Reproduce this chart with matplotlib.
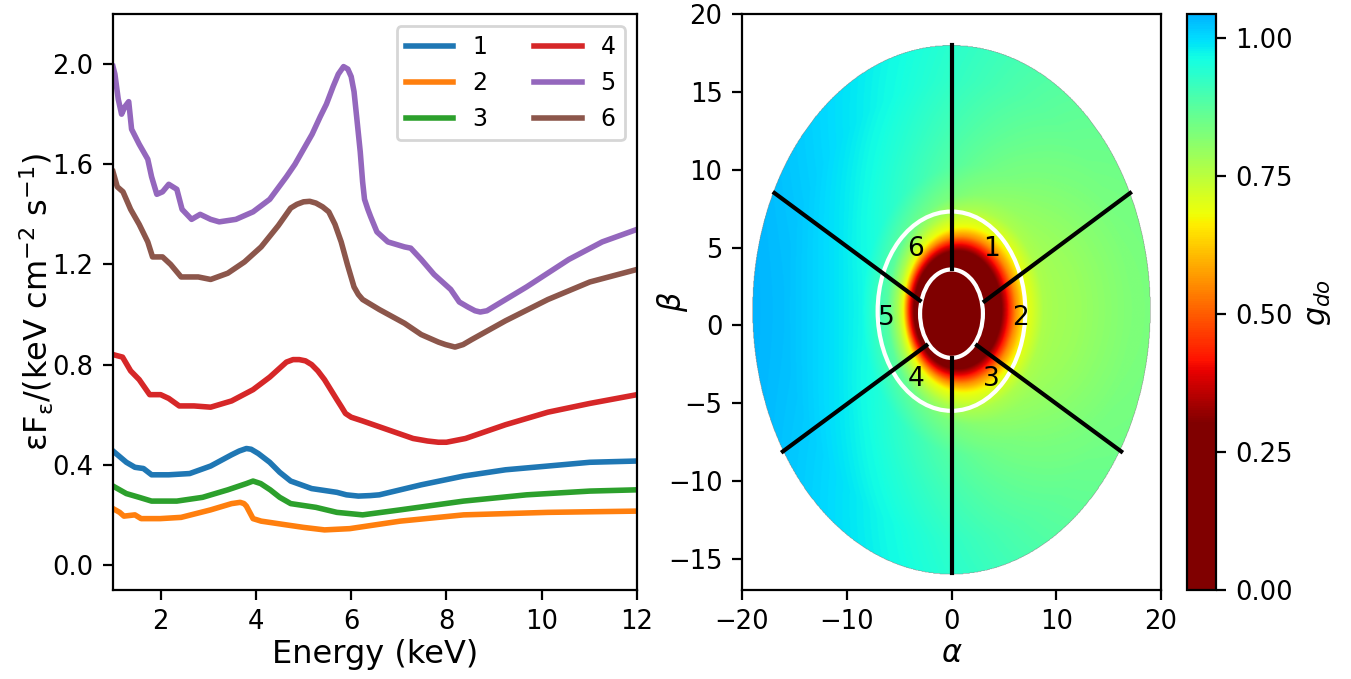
import numpy as np
import matplotlib
matplotlib.use("Agg")
import matplotlib.pyplot as plt
from matplotlib.colors import ListedColormap
from matplotlib.patches import Ellipse

# ---- left panel: spectra ----
E5 = [1.0, 1.04, 1.11, 1.18, 1.25, 1.33, 1.39, 1.55, 1.73, 1.81, 1.92, 2.04, 2.17, 2.34, 2.45, 2.65,
      2.83, 3.05, 3.23, 3.58, 3.94, 4.29, 4.64, 4.82, 5.0, 5.18, 5.35, 5.48, 5.62, 5.73, 5.84, 5.93,
      6.0, 6.06, 6.12, 6.19, 6.24, 6.28, 6.35, 6.41, 6.54, 6.77, 7.12, 7.25, 7.47, 7.74, 8.09, 8.27,
      8.45, 8.6, 8.71, 8.85, 8.98, 9.68, 10.57, 11.27, 12.0]
F5 = [1.99, 1.96, 1.86, 1.80, 1.83, 1.85, 1.74, 1.68, 1.62, 1.55, 1.48, 1.49, 1.52, 1.50, 1.42, 1.38,
      1.40, 1.38, 1.37, 1.38, 1.41, 1.46, 1.55, 1.60, 1.66, 1.72, 1.79, 1.84, 1.91, 1.96, 1.99, 1.98,
      1.95, 1.89, 1.78, 1.65, 1.53, 1.46, 1.42, 1.39, 1.33, 1.29, 1.27, 1.265, 1.22, 1.16, 1.10, 1.05,
      1.03, 1.015, 1.01, 1.015, 1.03, 1.11, 1.22, 1.29, 1.34]

E6 = [1.0, 1.09, 1.21, 1.37, 1.55, 1.73, 1.83, 2.04, 2.21, 2.43, 2.79, 3.05, 3.41, 3.76, 4.11,
      4.47, 4.73, 4.86, 5.0, 5.13, 5.26, 5.4, 5.53, 5.66, 5.79, 5.92, 6.06, 6.15, 6.24, 6.59, 7.12,
      7.47, 7.83, 7.98, 8.18, 8.35, 8.53, 9.24, 10.13, 11.01, 12.0]
F6 = [1.57, 1.51, 1.49, 1.42, 1.36, 1.29, 1.23, 1.23, 1.20, 1.15, 1.15, 1.14, 1.165, 1.21, 1.27,
      1.355, 1.425, 1.44, 1.45, 1.452, 1.445, 1.43, 1.41, 1.36, 1.29, 1.20, 1.11, 1.08, 1.06, 1.02, 0.965,
      0.92, 0.89, 0.88, 0.87, 0.88, 0.90, 0.975, 1.06, 1.13, 1.18]

E4 = [1.0, 1.2, 1.37, 1.55, 1.77, 2.0, 2.17, 2.39, 2.7, 3.05, 3.49, 3.94, 4.29, 4.64, 4.78, 4.91,
      5.04, 5.17, 5.3, 5.44, 5.57, 5.7, 5.8, 5.88, 6.0, 6.24, 6.77, 7.3, 7.6, 7.83, 8.0, 8.4, 9.24,
      10.13, 11.01, 12.0]
F4 = [0.84, 0.83, 0.775, 0.74, 0.68, 0.68, 0.665, 0.635, 0.635, 0.63, 0.655, 0.70, 0.75, 0.81, 0.82, 0.82,
      0.815, 0.80, 0.775, 0.74, 0.70, 0.66, 0.63, 0.605, 0.59, 0.575, 0.54, 0.505, 0.495, 0.49, 0.49, 0.505, 0.56,
      0.61, 0.645, 0.68]

E1 = [1.0, 1.28, 1.46, 1.64, 1.81, 2.17, 2.61, 3.05, 3.49, 3.65, 3.80, 3.9, 4.05, 4.29, 4.5, 4.73,
      5.17, 5.7, 5.9, 6.15, 6.4, 6.59, 7.47, 8.36, 9.24, 10.13, 11.01, 12.0]
F1 = [0.455, 0.41, 0.39, 0.385, 0.36, 0.36, 0.365, 0.395, 0.44, 0.455, 0.465, 0.462, 0.445, 0.41, 0.37, 0.335,
      0.305, 0.29, 0.28, 0.275, 0.277, 0.28, 0.32, 0.355, 0.38, 0.395, 0.41, 0.415]

E3 = [1.0, 1.28, 1.55, 1.81, 2.34, 2.88, 3.41, 3.8, 3.94, 4.1, 4.3, 4.5, 4.73, 5.26, 5.7, 6.24,
      7.03, 8.36, 9.68, 11.01, 12.0]
F3 = [0.315, 0.285, 0.27, 0.255, 0.255, 0.27, 0.30, 0.325, 0.335, 0.325, 0.30, 0.27, 0.245, 0.23, 0.21, 0.20,
      0.22, 0.255, 0.28, 0.295, 0.30]

E2 = [1.0, 1.14, 1.23, 1.46, 1.59, 1.99, 2.43, 3.05, 3.49, 3.67, 3.75, 3.80, 3.87, 3.94, 4.11, 4.64,
      5.0, 5.44, 5.97, 7.03, 8.36, 10.13, 12.0]
F2 = [0.225, 0.21, 0.195, 0.20, 0.185, 0.185, 0.19, 0.22, 0.245, 0.25, 0.245, 0.235, 0.21, 0.185, 0.175, 0.16,
      0.15, 0.14, 0.145, 0.175, 0.20, 0.21, 0.215]

# ---- right panel: redshift map, profiles along the disk's horizontal axis ----
# distance from centre (alpha units) and g on the left / right side
d_left = [0.0, 3.6, 4.0, 4.3, 4.6, 5.1, 6.1, 8.6, 12.0, 16.0, 20.0]
g_left = [0.2, 0.3, 0.42, 0.55, 0.68, 0.77, 0.88, 0.97, 1.0, 1.03, 1.044]
d_right = [0.0, 4.8, 5.45, 6.1, 7.05, 8.8, 10.0, 12.0, 14.0, 17.0, 20.0]
g_right = [0.2, 0.3, 0.42, 0.55, 0.68, 0.77, 0.78, 0.79, 0.805, 0.825, 0.835]
disk_radius = 19.0
disk_center_beta = 1.0
disk_axis_ratio = 19.0 / 17.0

# spokes (inner point -> outer point) and region labels
spoke_a0 = [0.0, 0.0, 3.16, 2.44, -2.4, -3.03]
spoke_b0 = [3.6, -2.1, 1.55, -1.29, -1.29, 1.6]
spoke_a1 = [0.0, 0.0, 17.05, 16.2, -16.1, -16.9]
spoke_b1 = [18.0, -15.9, 8.5, -8.1, -8.1, 8.5]
ring_center = [0.75, 0.91]
ring_half_a = [3.0, 7.05]
ring_half_b = [2.84, 6.4]
region_names = ["1", "2", "3", "4", "5", "6"]
region_a = [3.8, 6.6, 3.8, -3.4, -6.2, -3.4]
region_b = [4.9, 0.45, -3.45, -3.45, 0.45, 4.9]

g_min, g_max, g_floor = 0.0, 1.044, 0.3

# colormap: flat dark red below g_floor, then jet reversed up to light blue
v = np.linspace(g_min, g_max, 512)
t = np.where(v < g_floor, 1.0, 1.0 - 0.7 * (v - g_floor) / (g_max - g_floor))
cmap = ListedColormap(plt.cm.jet(t))

# build map on a grid
alpha = np.linspace(-20, 20, 900)
beta = np.linspace(-17, 20, 900)
A, B = np.meshgrid(alpha, beta)
D = np.hypot(A, (B - disk_center_beta) * disk_axis_ratio)
c = np.divide(A, D, out=np.zeros_like(A), where=D > 0)
wR = (1 + c) / 2
dl, dr = np.array(d_left), np.array(d_right)
gl, gr = np.array(g_left), np.array(g_right)
G = np.full(A.shape, gl[-1])
for k in range(len(dl) - 1):
    lo = wR * dr[k] + (1 - wR) * dl[k]
    hi = wR * dr[k + 1] + (1 - wR) * dl[k + 1]
    glo = wR * gr[k] + (1 - wR) * gl[k]
    ghi = wR * gr[k + 1] + (1 - wR) * gl[k + 1]
    sel = (D >= lo) & (D < hi)
    f = (D - lo) / (hi - lo)
    G = np.where(sel, glo + f * (ghi - glo), G)
G = np.ma.masked_where(D > disk_radius, G)

plt.rcParams["xtick.labelsize"] = 9.3
plt.rcParams["ytick.labelsize"] = 9.3

fig = plt.figure(figsize=(1351 / 200, 679 / 200), dpi=200)

ax = fig.add_axes([113 / 1351, 89 / 679, 524 / 1351, 576 / 679])
colors = ["#1f77b4", "#ff7f0e", "#2ca02c", "#d62728", "#9467bd", "#8c564b"]
series = [(E1, F1), (E2, F2), (E3, F3), (E4, F4), (E5, F5), (E6, F6)]
for i, (e, f) in enumerate(series):
    ax.plot(e, f, color=colors[i], lw=2, label=str(i + 1), solid_joinstyle="round")
ax.set_xlim(1, 12)
ax.set_ylim(-0.1, 2.2)
ax.set_xticks([2, 4, 6, 8, 10, 12])
ax.set_yticks([0.0, 0.4, 0.8, 1.2, 1.6, 2.0])
ax.set_xlabel("Energy (keV)", fontsize=11.5)
ax.set_ylabel("εF$_\\mathregular{ε}$/(keV cm$^{-2}$ s$^{-1}$)", fontsize=11.5)
ax.xaxis.set_label_coords(0.5, -0.085)
ax.yaxis.set_label_coords(-0.108, 0.5)
ax.legend(ncol=2, loc="upper right", fontsize=8.5)

ax2 = fig.add_axes([742 / 1351, 89 / 679, 419 / 1351, 576 / 679])
im = ax2.imshow(G, extent=[-20, 20, -17, 20], origin="lower", aspect="auto",
                cmap=cmap, vmin=g_min, vmax=g_max, interpolation="bilinear")
for i in range(len(spoke_a0)):
    ax2.plot([spoke_a0[i], spoke_a1[i]], [spoke_b0[i], spoke_b1[i]], color="black", lw=1.5)
ax2.add_patch(Ellipse((0, ring_center[0]), 2 * ring_half_a[0], 2 * ring_half_b[0],
                      fill=False, ec="white", lw=1.5))
ax2.add_patch(Ellipse((0, ring_center[1]), 2 * ring_half_a[1], 2 * ring_half_b[1],
                      fill=False, ec="white", lw=1.5))
for name, a, b in zip(region_names, region_a, region_b):
    ax2.text(a, b, name, ha="center", va="center", fontsize=9.5)
ax2.set_xlim(-20, 20)
ax2.set_ylim(-17, 20)
ax2.set_xlabel(r"$\alpha$", fontsize=11)
ax2.set_ylabel(r"$\beta$", fontsize=11)
ax2.xaxis.set_label_coords(0.5, -0.085)
ax2.yaxis.set_label_coords(-0.124, 0.5)

cax = fig.add_axes([1187 / 1351, 89 / 679, 29 / 1351, 576 / 679])
cb = fig.colorbar(im, cax=cax, ticks=[0, 0.25, 0.5, 0.75, 1.0], format="%.2f")
cb.set_label(r"$g_{do}$", fontsize=11)

fig.savefig("out.png", dpi=200)
